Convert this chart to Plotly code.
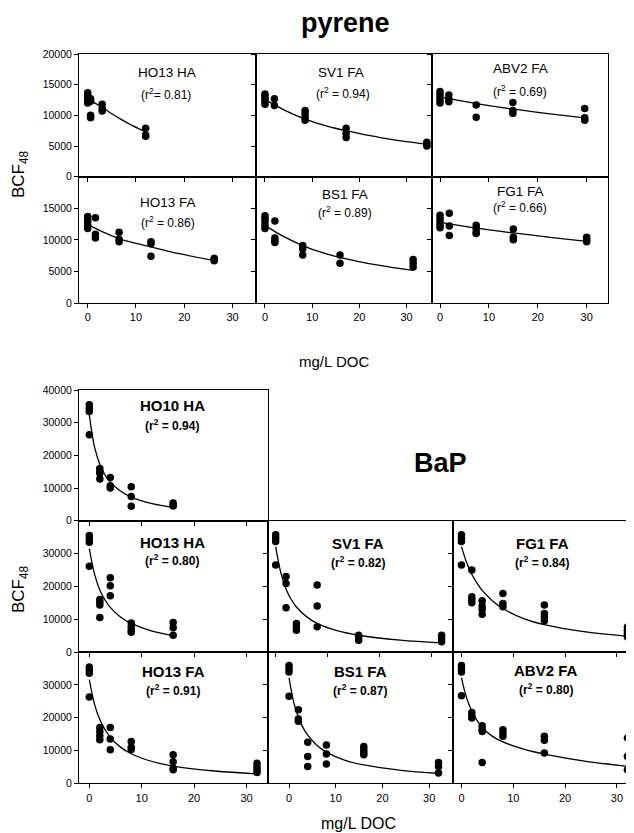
import plotly.graph_objects as go

# ---------------- data ----------------
# pyrene panels
pyr_ho13ha_doc = [0, 0, 0, 0, 0, 0.6, 0.6, 0.6, 0.6, 3, 3, 3, 12, 12, 12]
pyr_ho13ha_bcf = [13700, 13300, 12900, 12500, 12000, 12700, 12300, 10000, 9600, 11800, 11100, 10700, 7900, 6800, 6600]
pyr_ho13ha_fit_doc = [0, 1.5, 3, 5, 7, 9.5, 12]
pyr_ho13ha_fit_bcf = [12700, 12000, 11300, 10250, 9300, 8250, 7300]

pyr_sv1fa_doc = [0, 0, 0, 0, 0, 2, 2, 8.5, 8.5, 8.5, 8.5, 17.2, 17.2, 17.2, 34.3, 34.3, 34.3]
pyr_sv1fa_bcf = [13500, 13100, 12700, 12300, 11800, 12700, 11600, 10800, 10300, 9700, 9200, 7900, 7100, 6400, 5600, 5300, 5000]
pyr_sv1fa_fit_doc = [0, 4, 8.5, 13, 17.2, 25, 34.3]
pyr_sv1fa_fit_bcf = [12600, 10900, 9400, 8300, 7500, 6300, 5300]

pyr_abv2fa_doc = [0, 0, 0, 0, 0, 1.8, 1.8, 1.8, 7.4, 7.4, 14.9, 14.9, 14.9, 29.6, 29.6, 29.6]
pyr_abv2fa_bcf = [13900, 13400, 12900, 12500, 12000, 13300, 12600, 12200, 11700, 9700, 12100, 10800, 10300, 11100, 9600, 9200]
pyr_abv2fa_fit_doc = [0, 7.5, 15, 22.5, 29.6]
pyr_abv2fa_fit_bcf = [13000, 11900, 11000, 10250, 9600]

pyr_ho13fa_doc = [0, 0, 0, 0, 0, 1.6, 1.6, 1.6, 6.5, 6.5, 6.5, 13.1, 13.1, 13.1, 26.2, 26.2, 26.2]
pyr_ho13fa_bcf = [13700, 13300, 12900, 12300, 11800, 13500, 10900, 10300, 11200, 10100, 9700, 9700, 9400, 7400, 7100, 6900, 6700]
pyr_ho13fa_fit_doc = [0, 3, 6.5, 10, 13.1, 19, 26.2]
pyr_ho13fa_fit_bcf = [12400, 11300, 10200, 9450, 8900, 7800, 6700]

pyr_bs1fa_doc = [0, 0, 0, 0, 0, 2.1, 2.1, 2.1, 2.1, 8, 8, 8, 15.9, 15.9, 31.4, 31.4, 31.4]
pyr_bs1fa_bcf = [13800, 13400, 12900, 12300, 11800, 13000, 10300, 9900, 9600, 9100, 8600, 7600, 7600, 6300, 6900, 6300, 5700]
pyr_bs1fa_fit_doc = [0, 4, 8, 12, 16, 24, 31.4]
pyr_bs1fa_fit_bcf = [12300, 10500, 9100, 8000, 7200, 6000, 5150]

pyr_fg1fa_doc = [0, 0, 0, 0, 0, 1.9, 1.9, 1.9, 7.4, 7.4, 7.4, 7.4, 15, 15, 15, 30, 30, 30]
pyr_fg1fa_bcf = [13900, 13400, 12900, 12300, 11900, 14200, 12200, 10700, 12300, 11800, 11200, 11000, 11700, 10400, 10000, 10400, 10000, 9700]
pyr_fg1fa_fit_doc = [0, 7.5, 15, 22.5, 30]
pyr_fg1fa_fit_bcf = [12750, 11850, 11100, 10400, 9750]

# BaP panels
bap_ho10ha_doc = [0, 0, 0, 0, 2, 2, 2, 2, 4, 4, 4, 8, 8, 8, 16, 16, 16]
bap_ho10ha_bcf = [35500, 34400, 33400, 26300, 16000, 15200, 14500, 12800, 13200, 10700, 10000, 10400, 7400, 4400, 5400, 4800, 4500]
bap_ho10ha_fit_doc = [0, 1, 2, 3, 4, 6, 8, 12, 16]
bap_ho10ha_fit_bcf = [32400, 22500, 17300, 14000, 11800, 9000, 7200, 5200, 4050]

bap_ho13ha_doc = [0, 0, 0, 0, 2, 2, 2, 2, 4, 4, 4, 8, 8, 8, 8, 16, 16, 16]
bap_ho13ha_bcf = [35500, 34400, 33400, 26100, 16000, 15200, 14300, 10500, 22600, 20200, 17100, 8800, 7700, 6700, 6000, 9000, 7400, 5100]
bap_ho13ha_fit_doc = [0, 1, 2, 3, 4, 6, 8, 12, 16]
bap_ho13ha_fit_bcf = [31500, 23700, 18900, 15850, 13600, 10600, 8700, 6350, 5000]

bap_sv1fa_doc = [0, 0, 0, 0, 2, 2, 2, 4, 4, 4, 8, 8, 8, 16, 16, 16, 32, 32, 32]
bap_sv1fa_bcf = [35700, 34700, 33700, 26500, 23000, 20900, 13500, 8700, 7700, 6600, 20400, 14000, 7700, 5100, 4400, 3600, 5100, 4100, 3100]
bap_sv1fa_fit_doc = [0, 1, 2, 3, 4, 6, 8, 12, 16, 24, 32]
bap_sv1fa_fit_bcf = [32100, 24100, 19200, 16000, 13700, 10700, 8700, 6400, 5100, 3600, 2750]

bap_fg1fa_doc = [0, 0, 0, 0, 2, 2, 2, 2, 4, 4, 4, 4, 8, 8, 8, 16, 16, 16, 16, 32, 32, 32, 32]
bap_fg1fa_bcf = [35700, 34700, 33700, 26500, 25000, 16800, 16000, 15000, 15600, 14100, 13000, 11500, 17800, 14800, 13800, 14300, 11700, 10700, 9500, 7600, 6600, 5600, 4600]
bap_fg1fa_fit_doc = [0, 1, 2, 3, 4, 6, 8, 12, 16, 24, 32]
bap_fg1fa_fit_bcf = [32100, 27250, 23670, 20960, 18750, 15570, 13240, 10200, 8340, 6120, 4790]

bap_ho13fa_doc = [0, 0, 0, 0, 2, 2, 2, 2, 4, 4, 4, 8, 8, 8, 16, 16, 16, 16, 32, 32, 32, 32]
bap_ho13fa_bcf = [35400, 34500, 33500, 26300, 17000, 15800, 14500, 13300, 17000, 13500, 10200, 12700, 11000, 10300, 8700, 6600, 4600, 4100, 6100, 5100, 4100, 3300]
bap_ho13fa_fit_doc = [0, 1, 2, 3, 4, 6, 8, 12, 16, 24, 32]
bap_ho13fa_fit_bcf = [31600, 24050, 19410, 16370, 14010, 10940, 9010, 6640, 5250, 3740, 2860]

bap_bs1fa_doc = [0, 0, 0, 0, 2, 2, 2, 4, 4, 4, 8, 8, 8, 16, 16, 16, 16, 32, 32, 32]
bap_bs1fa_bcf = [35900, 34900, 33900, 26500, 22400, 19600, 18900, 12500, 8200, 5100, 11700, 8900, 5900, 11200, 10200, 9400, 8700, 6300, 5100, 3100]
bap_bs1fa_fit_doc = [0, 1, 2, 3, 4, 6, 8, 12, 16, 24, 32]
bap_bs1fa_fit_bcf = [32100, 24750, 20140, 16970, 14660, 11540, 9510, 7010, 5580, 3960, 3060]

bap_abv2fa_doc = [0, 0, 0, 0, 2, 2, 2, 4, 4, 4, 4, 8, 8, 8, 16, 16, 16, 32, 32, 32]
bap_abv2fa_bcf = [35900, 34900, 33900, 26700, 21600, 20600, 19900, 17500, 16500, 15800, 6300, 16300, 15300, 14300, 14300, 13100, 9200, 13800, 8200, 4100]
bap_abv2fa_fit_doc = [0, 1, 2, 3, 4, 6, 8, 12, 16, 24, 32]
bap_abv2fa_fit_bcf = [32100, 26000, 22000, 19200, 17000, 14300, 12600, 10400, 8900, 6700, 5200]

# labels
panel_names = ["HO13 HA", "SV1 FA", "ABV2 FA", "HO13 FA", "BS1 FA", "FG1 FA",
               "HO10 HA", "HO13 HA", "SV1 FA", "FG1 FA", "HO13 FA", "BS1 FA", "ABV2 FA"]
panel_r2 = ["(r<sup>2</sup>= 0.81)", "(r<sup>2</sup> = 0.94)", "(r<sup>2</sup> = 0.69)",
            "(r<sup>2</sup> = 0.86)", "(r<sup>2</sup> = 0.89)", "(r<sup>2</sup> = 0.66)",
            "(r<sup>2</sup> = 0.94)", "(r<sup>2</sup> = 0.80)", "(r<sup>2</sup> = 0.82)",
            "(r<sup>2</sup> = 0.84)", "(r<sup>2</sup> = 0.91)", "(r<sup>2</sup> = 0.87)",
            "(r<sup>2</sup> = 0.80)"]
pyr_yticks_top = [0, 5000, 10000, 15000, 20000]
pyr_yticks_low = [0, 5000, 10000, 15000]
bap_yticks_top = [0, 10000, 20000, 30000, 40000]
bap_yticks_low = [0, 10000, 20000, 30000]
x_ticks = [0, 10, 20, 30]

# ---------------- layout geometry (pixels, in page coordinates) ----------------
OFF = 8                      # page body margin of the browser
W, H = 634 - OFF, 833 - OFF  # figure size so that it fits the window
FONT = "Liberation Sans, Arial, Helvetica, sans-serif"


def px(x):
    return (x - OFF) / W


def py(y):
    return 1 - (y - OFF) / H


series = [
    (pyr_ho13ha_doc, pyr_ho13ha_bcf, pyr_ho13ha_fit_doc, pyr_ho13ha_fit_bcf),
    (pyr_sv1fa_doc, pyr_sv1fa_bcf, pyr_sv1fa_fit_doc, pyr_sv1fa_fit_bcf),
    (pyr_abv2fa_doc, pyr_abv2fa_bcf, pyr_abv2fa_fit_doc, pyr_abv2fa_fit_bcf),
    (pyr_ho13fa_doc, pyr_ho13fa_bcf, pyr_ho13fa_fit_doc, pyr_ho13fa_fit_bcf),
    (pyr_bs1fa_doc, pyr_bs1fa_bcf, pyr_bs1fa_fit_doc, pyr_bs1fa_fit_bcf),
    (pyr_fg1fa_doc, pyr_fg1fa_bcf, pyr_fg1fa_fit_doc, pyr_fg1fa_fit_bcf),
    (bap_ho10ha_doc, bap_ho10ha_bcf, bap_ho10ha_fit_doc, bap_ho10ha_fit_bcf),
    (bap_ho13ha_doc, bap_ho13ha_bcf, bap_ho13ha_fit_doc, bap_ho13ha_fit_bcf),
    (bap_sv1fa_doc, bap_sv1fa_bcf, bap_sv1fa_fit_doc, bap_sv1fa_fit_bcf),
    (bap_fg1fa_doc, bap_fg1fa_bcf, bap_fg1fa_fit_doc, bap_fg1fa_fit_bcf),
    (bap_ho13fa_doc, bap_ho13fa_bcf, bap_ho13fa_fit_doc, bap_ho13fa_fit_bcf),
    (bap_bs1fa_doc, bap_bs1fa_bcf, bap_bs1fa_fit_doc, bap_bs1fa_fit_bcf),
    (bap_abv2fa_doc, bap_abv2fa_bcf, bap_abv2fa_fit_doc, bap_abv2fa_fit_bcf),
]

# per panel: box (x0, x1, y0, y1) px, x range, y range, y ticks, y labels?, x labels?, bold?, name pos, r2 pos
P = [
    dict(box=(79, 256, 54, 176.7), xr=[-1.8, 34.85], yr=[0, 20000], yt=pyr_yticks_top, yl=True, xl=False, b=False, n=(167, 72), r=(166, 94)),
    dict(box=(256, 432, 54, 176.7), xr=[-1.9, 35.4], yr=[0, 20000], yt=pyr_yticks_top, yl=False, xl=False, b=False, n=(341, 72), r=(343, 93)),
    dict(box=(432, 608, 54, 176.7), xr=[-1.64, 34.36], yr=[0, 20000], yt=pyr_yticks_top, yl=False, xl=False, b=False, n=(520, 68), r=(520, 91.5)),
    dict(box=(79, 256, 176.7, 303), xr=[-1.8, 34.85], yr=[0, 20000], yt=pyr_yticks_low, yl=True, xl=True, b=False, n=(168, 203), r=(168, 221.5)),
    dict(box=(256, 432, 176.7, 303), xr=[-1.9, 35.4], yr=[0, 20000], yt=pyr_yticks_low, yl=False, xl=True, b=False, n=(345, 194), r=(345, 211.5)),
    dict(box=(432, 608, 176.7, 303), xr=[-1.64, 34.36], yr=[0, 20000], yt=pyr_yticks_low, yl=False, xl=True, b=False, n=(520, 191.5), r=(520, 207)),
    dict(box=(79, 268, 390, 520.7), xr=[-1.97, 34.1], yr=[0, 40000], yt=bap_yticks_top, yl=True, xl=False, b=True, n=(172, 405), r=(172, 425)),
    dict(box=(79, 268, 520.7, 652), xr=[-1.97, 34.1], yr=[0, 40000], yt=bap_yticks_low, yl=True, xl=False, b=True, n=(172, 542.5), r=(172, 560)),
    dict(box=(268, 453, 520.7, 652), xr=[-1.48, 34.2], yr=[0, 40000], yt=bap_yticks_low, yl=False, xl=False, b=True, n=(358, 543), r=(358, 561.5)),
    dict(box=(453, 632.5, 520.7, 652), xr=[-1.63, 33.0], yr=[0, 40000], yt=bap_yticks_low, yl=False, xl=False, b=True, n=(542, 543), r=(542, 561.5)),
    dict(box=(79, 268, 652, 783.3), xr=[-1.97, 34.1], yr=[0, 40000], yt=bap_yticks_low, yl=True, xl=True, b=True, n=(173, 671.5), r=(173, 690)),
    dict(box=(268, 453, 652, 783.3), xr=[-4.5, 35.1], yr=[0, 40000], yt=bap_yticks_low, yl=False, xl=True, b=True, n=(360, 671.5), r=(360, 690)),
    dict(box=(453, 632.5, 652, 783.3), xr=[-1.63, 33.0], yr=[0, 40000], yt=bap_yticks_low, yl=False, xl=True, b=True, n=(546, 670), r=(546, 688.5)),
]

fig = go.Figure()
layout = dict(width=W, height=H, margin=dict(l=0, r=0, t=0, b=0, pad=0), autosize=False,
              paper_bgcolor="white", plot_bgcolor="white", showlegend=False,
              font=dict(family=FONT, color="black"))
annotations = []

for i, (p, s) in enumerate(zip(P, series)):
    k = i + 1
    xa = "x" if k == 1 else f"x{k}"
    ya = "y" if k == 1 else f"y{k}"
    doc, bcf, fdoc, fbcf = s
    fig.add_trace(go.Scatter(x=fdoc, y=fbcf, mode="lines", xaxis=xa, yaxis=ya,
                             line=dict(color="black", width=1.3, shape="spline", smoothing=1.0),
                             hoverinfo="skip"))
    fig.add_trace(go.Scatter(x=doc, y=bcf, mode="markers", xaxis=xa, yaxis=ya, cliponaxis=False,
                             marker=dict(color="black", size=7.5, line=dict(width=0))))
    x0, x1, y0, y1 = p["box"]
    common = dict(showline=True, mirror=True, linecolor="black", linewidth=1,
                  ticks="outside", ticklen=4, tickwidth=1, tickcolor="black",
                  showgrid=False, zeroline=False, fixedrange=True, automargin=False,
                  tickformat="d")
    layout["xaxis" if k == 1 else f"xaxis{k}"] = dict(
        domain=[px(x0), min(px(x1), 1)], anchor=ya, range=p["xr"], tickvals=x_ticks,
        showticklabels=p["xl"], tickfont=dict(size=11, family=FONT), **common)
    layout["yaxis" if k == 1 else f"yaxis{k}"] = dict(
        domain=[py(y1), py(y0)], anchor=xa, range=p["yr"], tickvals=p["yt"],
        showticklabels=p["yl"], tickfont=dict(size=10.5, family=FONT), **common)
    bold = p["b"]
    name = f"<b>{panel_names[i]}</b>" if bold else panel_names[i]
    r2 = f"<b>{panel_r2[i]}</b>" if bold else panel_r2[i]
    annotations.append(dict(text=name, x=px(p["n"][0]), y=py(p["n"][1]), xref="paper", yref="paper",
                            showarrow=False, xanchor="center", yanchor="middle",
                            font=dict(size=15 if bold else 13.5, family=FONT)))
    annotations.append(dict(text=r2, x=px(p["r"][0]), y=py(p["r"][1]), xref="paper", yref="paper",
                            showarrow=False, xanchor="center", yanchor="middle",
                            font=dict(size=12, family=FONT)))

# section titles and axis titles
texts = [
    ("<b>pyrene</b>", 345, 23, 27, 0),
    ("<b>BaP</b>", 440, 463, 27, 0),
    ("mg/L DOC", 334, 361, 15, 0),
    ("mg/L DOC", 358, 823, 16, 0),
    ("BCF<sub>48</sub>", 20, 174, 17, -90),
    ("BCF<sub>48</sub>", 20, 589, 17, -90),
]
for t, x, y, sz, ang in texts:
    annotations.append(dict(text=t, x=px(x), y=py(y), xref="paper", yref="paper",
                            showarrow=False, xanchor="center", yanchor="middle", textangle=ang,
                            font=dict(size=sz, family=FONT)))

layout["annotations"] = annotations
fig.update_layout(**layout)
fig.write_html("out.html")
